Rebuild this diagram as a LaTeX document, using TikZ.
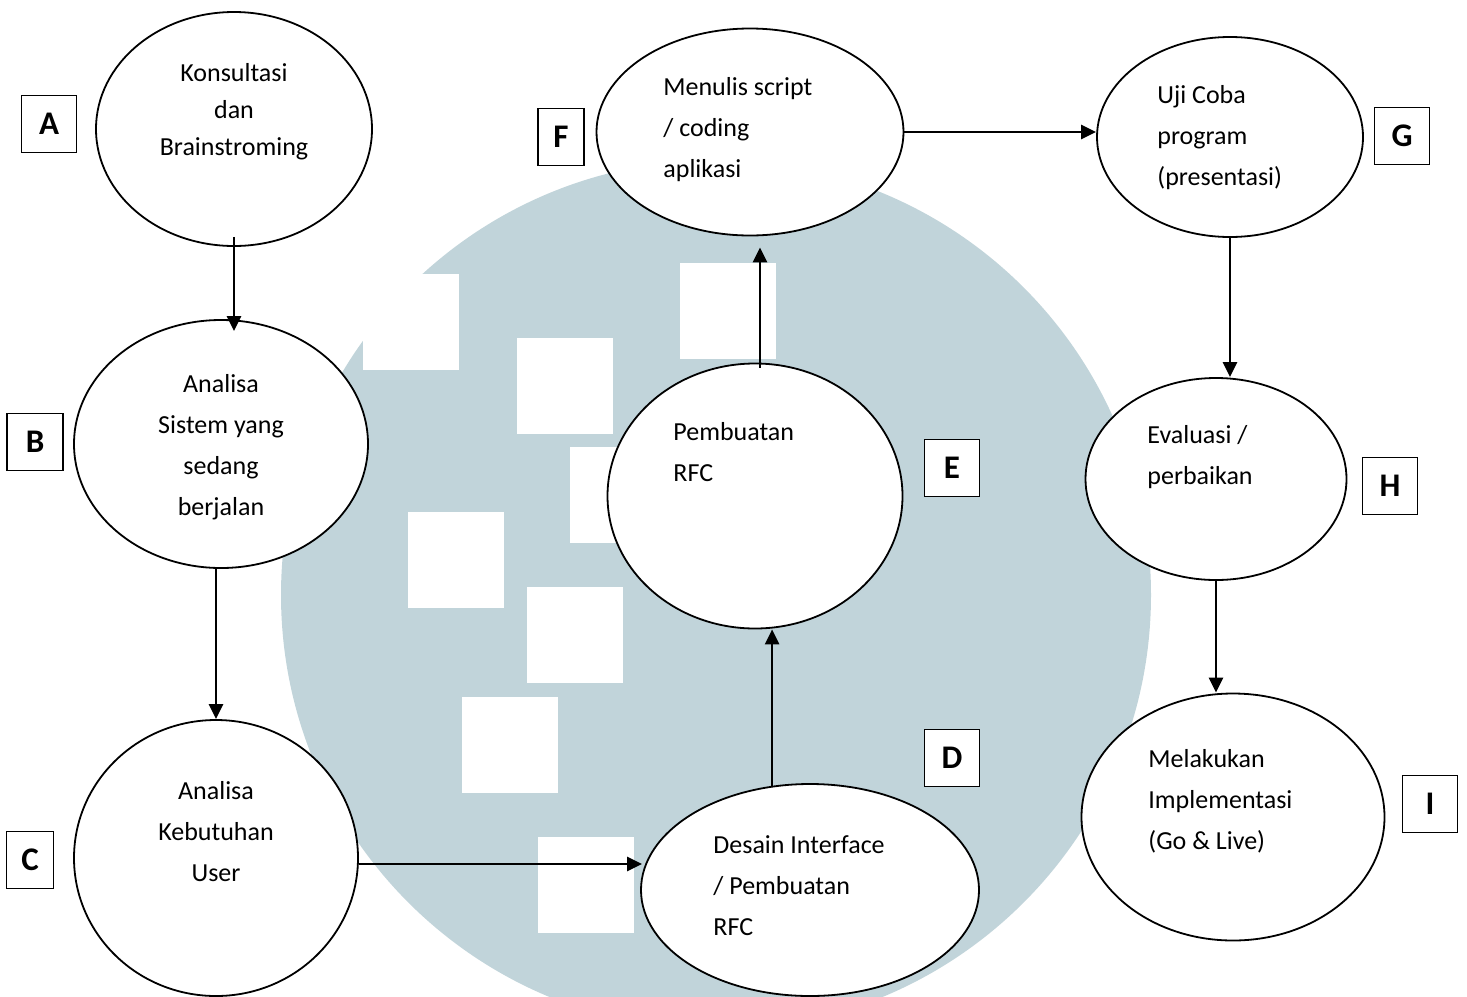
\documentclass[tikz,border=0pt]{standalone}
\usepackage{fontspec}
\setmainfont{Carlito}
\usetikzlibrary{arrows.meta,calc,shapes.geometric}
\definecolor{wmblue}{RGB}{193,212,218}

\begin{document}
\begin{tikzpicture}[x=0.5pt, y=-0.5pt,
    proses/.style={ellipse, draw, fill=white, line width=0.9pt, inner sep=0pt},
    teks/.style={font=\fontsize{13}{20.5}\selectfont, inner sep=0pt},
    huruf/.style={draw, fill=white, line width=0.75pt, inner sep=0pt, minimum height=28.5pt, font=\fontsize{16.5}{18}\selectfont\bfseries},
    panah/.style={-{Triangle[length=7.5pt,width=7pt]}, line width=1.3pt}]
    \useasboundingbox (0,0) rectangle (1467,996);

    % Background logo
    \fill[wmblue] (716,595) circle [radius=217.5pt];
    \foreach \x/\y in {363/274, 517/338, 680/263, 570/447, 408/512, 527/587, 462/697, 538/837}
        \fill[white] (\x,\y) rectangle ++(96,96);

    % Steps
    \node[proses, minimum width=138pt, minimum height=117pt] (A) at (234,129) {};
    \node[proses, minimum width=147pt, minimum height=124pt] (B) at (221,444) {};
    \node[proses, minimum width=142pt, minimum height=138pt] (C) at (216,858) {};
    \node[proses, minimum width=169pt, minimum height=106pt] (D) at (810,890) {};
    \node[proses, minimum width=147.5pt, minimum height=132.5pt] (E) at (755,496) {};
    \node[proses, minimum width=153.5pt, minimum height=103.5pt] (F) at (750,132) {};
    \node[proses, minimum width=133pt, minimum height=100pt] (G) at (1230,137) {};
    \node[proses, minimum width=130.5pt, minimum height=101pt] (H) at (1216,479) {};
    \node[proses, minimum width=151.5pt, minimum height=123.5pt] (I) at (1233,817) {};

    \node[teks, align=center, font=\fontsize{13}{18.5}\selectfont] (A-teks) at (234,112) {Konsultasi\\dan\\Brainstroming};
    \node[teks, align=center] (B-teks) at (221,447) {Analisa\\Sistem yang\\sedang\\berjalan};
    \node[teks, align=center] (C-teks) at (216,832) {Analisa\\Kebutuhan\\User};
    \node[teks, align=left, anchor=west] (D-teks) at (713,886) {Desain Interface\\/ Pembuatan\\RFC};
    \node[teks, align=left, anchor=west] (E-teks) at (673,452) {Pembuatan\\RFC};
    \node[teks, align=left, anchor=west] (F-teks) at (663,130) {Menulis script\\/ coding\\aplikasi};
    \node[teks, align=left, anchor=west] (G-teks) at (1157,138) {Uji Coba\\program\\(presentasi)};
    \node[teks, align=left, anchor=west] (H-teks) at (1147,457) {Evaluasi /\\perbaikan};
    \node[teks, align=left, anchor=west] (I-teks) at (1148,801) {Melakukan\\Implementasi\\(Go \& Live)};

    % Letter boxes
    \foreach \n/\x/\y/\w in {A/49/124/27.5, B/35/442/28, C/30/860/23.5, D/952/758/27.5, E/952/468/27.5,
                             F/561/137/23, G/1402/136/27.5, H/1390/486/27.5, I/1430/804/27.5}
        \node[huruf, minimum width=\w pt] (kotak-\n) at (\x,\y) {\n};

    % Flow
    \draw[panah] ($(A.south)+(0,-10)$) -- ($(A.south |- B.north)+(0,12)$);
    \draw[panah] (C.north |- B.south) -- (C.north);
    \draw[panah] ($(C.east)+(0,6)$) -- ($(C.east -| D.west)+(2,6)$);
    \draw[panah] (D.110) -- (D.110 |- E.south);
    \draw[panah] ($(E.north)+(5,5)$) -- ($(E.north |- F.south)+(5,11)$);
    \draw[panah] (F.east) -- (F.east -| G.west);
    \draw[panah] (G.south) -- (G.south |- H.north);
    \draw[panah] (H.south) -- (H.south |- I.north);
\end{tikzpicture}
\end{document}
